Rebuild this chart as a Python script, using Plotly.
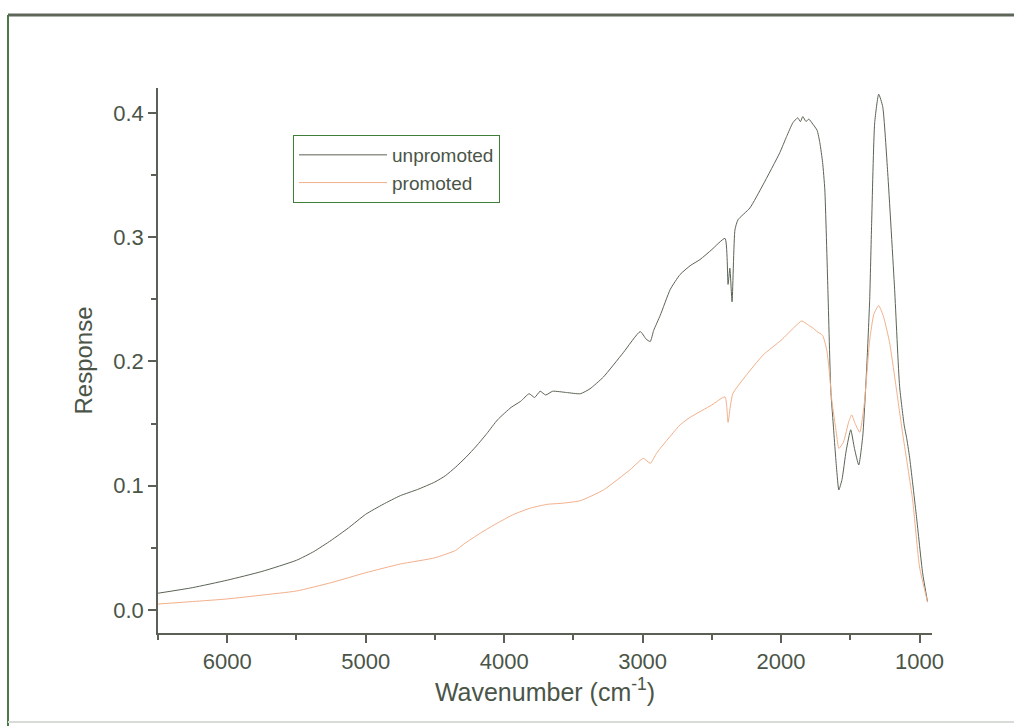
import plotly.graph_objects as go

# ---- data ----
wn_unpromoted = [6500, 6250, 6000, 5750, 5500, 5375, 5250, 5125, 5000, 4875, 4750, 4625, 4500, 4425,
                 4350, 4275, 4200, 4125, 4048, 3950, 3880, 3820, 3780, 3740, 3700, 3650, 3550, 3450,
                 3380, 3283, 3140, 3017, 2975, 2945, 2920, 2873, 2800, 2729, 2657, 2585, 2500, 2405,
                 2383, 2370, 2354, 2333, 2311, 2225, 2131, 2009, 1960, 1915, 1880, 1860, 1843, 1820,
                 1800, 1771, 1740, 1720, 1700, 1684, 1662, 1641, 1627, 1600, 1583, 1560, 1530, 1497,
                 1470, 1439, 1410, 1381, 1360, 1346, 1324, 1295, 1266, 1230, 1180, 1144, 1110, 1094,
                 1072, 1022, 978, 942]
resp_unpromoted = [0.0135, 0.018, 0.024, 0.031, 0.040, 0.047, 0.056, 0.066, 0.077, 0.085, 0.092, 0.097,
                   0.103, 0.108, 0.115, 0.123, 0.132, 0.142, 0.153, 0.163, 0.168, 0.174, 0.171, 0.176,
                   0.173, 0.176, 0.175, 0.174, 0.178, 0.1875, 0.207, 0.224, 0.218, 0.216, 0.225, 0.237,
                   0.258, 0.270, 0.277, 0.282, 0.290, 0.299, 0.262, 0.275, 0.248, 0.306, 0.314, 0.3235,
                   0.342, 0.368, 0.381, 0.392, 0.396, 0.393, 0.397, 0.393, 0.395, 0.391, 0.386, 0.376,
                   0.360, 0.338, 0.258, 0.177, 0.155, 0.115, 0.0966, 0.105, 0.128, 0.145, 0.130, 0.1167,
                   0.140, 0.196, 0.250, 0.311, 0.392, 0.415, 0.405, 0.352, 0.258, 0.180, 0.148, 0.139,
                   0.123, 0.075, 0.030, 0.0064]

wn_promoted = [6500, 6250, 6000, 5750, 5500, 5250, 5000, 4750, 4500, 4350, 4292, 4170, 4048, 3930,
               3810, 3690, 3572, 3449, 3283, 3089, 2995, 2945, 2900, 2873, 2729, 2657, 2500, 2405,
               2383, 2365, 2347, 2131, 2000, 1900, 1850, 1800, 1771, 1740, 1700, 1670, 1650, 1634,
               1600, 1583, 1550, 1510, 1490, 1465, 1432, 1400, 1360, 1330, 1295, 1260, 1216, 1170,
               1122, 1050, 1000, 942]
resp_promoted = [0.0048, 0.0068, 0.0089, 0.012, 0.0153, 0.022, 0.030, 0.037, 0.042, 0.048, 0.053, 0.062,
                 0.070, 0.077, 0.082, 0.085, 0.086, 0.088, 0.0966, 0.113, 0.122, 0.118, 0.126, 0.130,
                 0.149, 0.155, 0.165, 0.1715, 0.151, 0.165, 0.1745, 0.205, 0.217, 0.228, 0.2326, 0.229,
                 0.227, 0.224, 0.221, 0.209, 0.190, 0.169, 0.142, 0.130, 0.135, 0.152, 0.157, 0.150,
                 0.143, 0.165, 0.217, 0.238, 0.245, 0.236, 0.215, 0.180, 0.142, 0.0885, 0.0346, 0.0064]

series_names = ["unpromoted", "promoted"]
x_ticks = [6000, 5000, 4000, 3000, 2000, 1000]
y_ticks = [0.0, 0.1, 0.2, 0.3, 0.4]

# ---- figure ----
W, H = 1014, 726
L, R, T, B = 158, 82, 88, 93
pw, ph = W - L - R, H - T - B
TXT = "#4a5548"
AX = "#5a6056"

def px(x):
    return (x - L) / pw

def py(y):
    return (H - B - y) / ph

fig = go.Figure()
fig.add_trace(go.Scatter(x=wn_unpromoted, y=resp_unpromoted, mode="lines", name=series_names[0],
                         line=dict(color="#5a6454", width=1, shape="spline", smoothing=0.5)))
fig.add_trace(go.Scatter(x=wn_promoted, y=resp_promoted, mode="lines", name=series_names[1],
                         line=dict(color="#f2b08a", width=1, shape="spline", smoothing=0.5)))

font_family = "Liberation Sans, Arial, sans-serif"
fig.update_layout(
    width=W, height=H,
    margin=dict(l=L, r=R, t=T, b=B),
    paper_bgcolor="white", plot_bgcolor="white",
    font=dict(family=font_family, color=TXT, size=20),
    showlegend=True,
    legend=dict(x=px(293), y=py(135), xanchor="left", yanchor="top",
                bordercolor="#3f7f3a", borderwidth=1, bgcolor="white",
                font=dict(size=19, color=TXT, family=font_family),
                itemwidth=88, tracegroupgap=0),
    xaxis=dict(range=[6500, 910], tickvals=x_ticks, ticks="outside", ticklen=8, tickwidth=1.5,
               tickcolor=AX, showline=True, linecolor=AX, linewidth=1.5, showgrid=False,
               zeroline=False, tickfont=dict(size=22, color=TXT),
               minor=dict(dtick=500, tick0=0, ticks="outside", ticklen=5, tickwidth=1.5, tickcolor=AX, showgrid=False),
               title=dict(text="Wavenumber (cm<sup>-1</sup>)", font=dict(size=25, color=TXT), standoff=10)),
    yaxis=dict(range=[-0.0185, 0.42], tickvals=y_ticks, tickformat=".1f", ticks="outside", ticklen=8,
               tickwidth=1.5, tickcolor=AX, showline=True, linecolor=AX, linewidth=1.5, showgrid=False,
               zeroline=False, tickfont=dict(size=22, color=TXT),
               minor=dict(dtick=0.05, tick0=0, ticks="outside", ticklen=5, tickwidth=1.5, tickcolor=AX, showgrid=False),
               title=dict(text="Response", font=dict(size=24, color=TXT), standoff=14)),
)

# outer frame lines of the picture
fig.add_shape(type="line", xref="paper", yref="paper", x0=px(8), x1=px(1014), y0=py(15), y1=py(15),
              line=dict(color="#5d6658", width=3))
fig.add_shape(type="line", xref="paper", yref="paper", x0=px(8), x1=px(8), y0=py(15), y1=py(726),
              line=dict(color="#4a7a45", width=2))
fig.add_shape(type="line", xref="paper", yref="paper", x0=px(8), x1=px(1014), y0=py(722), y1=py(722),
              line=dict(color="#d8dcd6", width=2))

fig.write_html("out.html", config={"displayModeBar": False},
               post_script="document.body.style.margin='0';")
